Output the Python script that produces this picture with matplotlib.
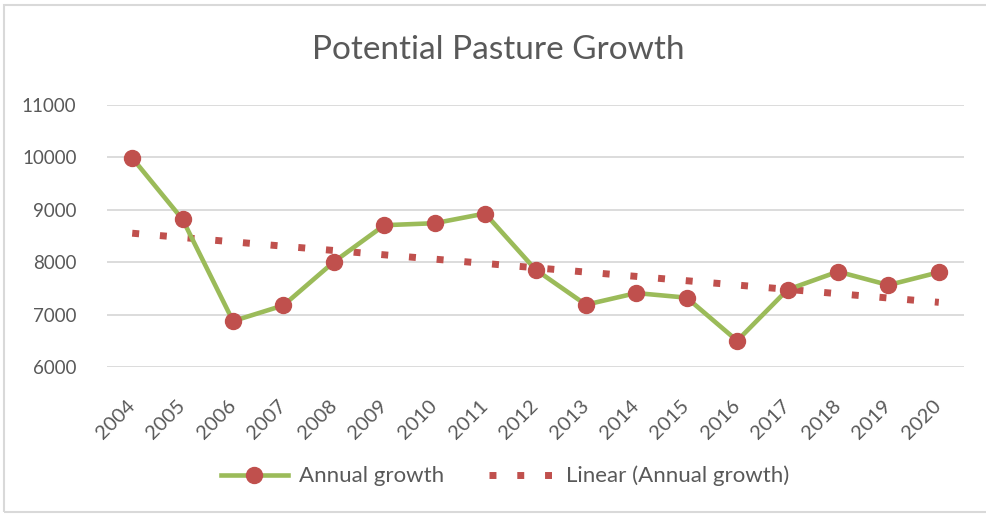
import numpy as np
import matplotlib
matplotlib.use("Agg")
import matplotlib.pyplot as plt
from matplotlib.patches import Rectangle

plt.rcParams['font.family'] = ['Lato', 'DejaVu Sans']

# data
years = ['2004', '2005', '2006', '2007', '2008', '2009', '2010', '2011', '2012',
         '2013', '2014', '2015', '2016', '2017', '2018', '2019', '2020']
growth = [9990, 8815, 6876, 7176, 8006, 8706, 8744, 8929, 7859,
          7189, 7411, 7323, 6501, 7476, 7820, 7564, 7807]
yticks = [6000, 7000, 8000, 9000, 10000, 11000]

green = '#9BBB59'
red = '#C0504D'
grey = '#595959'
grid = '#D9D9D9'

x = np.arange(len(years))
# Excel-style linear trendline of the series
coef = np.polyfit(x, growth, 1)
trend = np.polyval(coef, x)

fig = plt.figure(figsize=(9.87, 5.14), dpi=100)
ax = fig.add_axes([107 / 987, 1 - 367 / 514, (964 - 107) / 987, (367 - 105) / 514])

ax.plot(x, trend, color=red, lw=5, linestyle=(0, (1, 3)),
        label='Linear (Annual growth)', zorder=2)
ax.plot(x, growth, color=green, lw=3.3, marker='o', markersize=11.5,
        markerfacecolor=red, markeredgecolor=red, label='Annual growth', zorder=3)

ax.set_xlim(-0.5, len(years) - 0.5)
ax.set_ylim(6000, 11000)
ax.set_yticks(yticks)
ax.set_xticks(x)
ax.set_xticklabels(years, rotation=45, ha='right', va='center', rotation_mode='anchor')
ax.tick_params(axis='x', length=0, pad=26, labelsize=14.5, labelcolor=grey)
ax.tick_params(axis='y', length=0, pad=22, labelsize=13.5, labelcolor=grey)
ax.yaxis.grid(True, color=grid, lw=1.3)
ax.set_axisbelow(True)
for s in ax.spines.values():
    s.set_visible(False)

fig.text(0.505, 1 - 50 / 514, 'Potential Pasture Growth', ha='center', va='center',
         fontsize=24, color=grey)

h, l = ax.get_legend_handles_labels()
leg = fig.legend(h[::-1], l[::-1], loc='center', bbox_to_anchor=(0.512, 1 - 476 / 514),
                 ncol=2, frameon=False, fontsize=16, handlelength=3.0,
                 columnspacing=2.0, handletextpad=0.5)
for t in leg.get_texts():
    t.set_color(grey)

fig.patches.append(Rectangle((4 / 987, 2 / 514), 1.1, 1 - 7 / 514, transform=fig.transFigure,
                             fill=False, edgecolor='#D9D9D9', lw=1.5))

fig.savefig('out.png', dpi=100)
